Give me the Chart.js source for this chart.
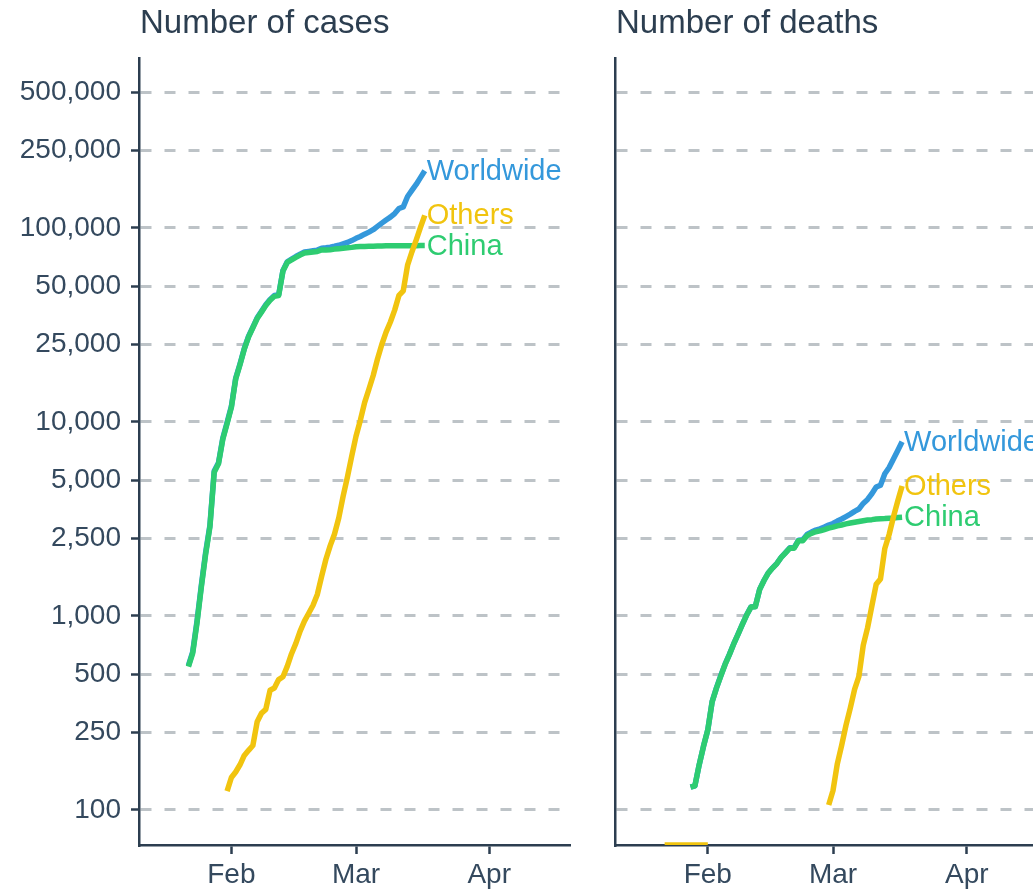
<!DOCTYPE html>
<html>
<head>
<meta charset="utf-8">
<script src="https://cdn.jsdelivr.net/npm/chart.js@4.4.1/dist/chart.umd.min.js"></script>
<style>
  html, body { margin: 0; padding: 0; background: #fff; overflow: hidden; }
  #left { position: absolute; left: 0; top: 0; width: 590px; height: 893px; }
  #right { position: absolute; left: 590px; top: 0; width: 470px; height: 893px; }
</style>
</head>
<body>
<div id="left"><canvas id="casesChart"></canvas></div>
<div id="right"><canvas id="deathsChart"></canvas></div>
<script>
// days are day-of-year 2020, first one is Jan 22, last Mar 17
const firstDay = 22;

const worldCases = [555, 654, 941, 1434, 2118, 2927, 5578, 6166, 8234, 9927,
  12038, 16787, 19887, 23898, 27643, 30802, 34395, 37129, 40159, 42768,
  44811, 45229, 60381, 66908, 69052, 71235, 73270, 75152, 75652, 76212,
  76841, 78602, 78982, 79546, 80399, 81376, 82736, 84124, 86013,
  88371, 90309, 92844, 95124, 97886, 101800, 105836, 109835, 113582, 118582,
  125865, 128343, 145193, 156097, 167449, 181531, 197146];
const chinaCases = [548, 643, 920, 1406, 2075, 2877, 5509, 6087, 8141, 9802,
  11891, 16630, 19716, 23707, 27440, 30587, 34110, 36814, 39829, 42354,
  44386, 44759, 59895, 66358, 68413, 70513, 72434, 74211, 74619, 75077,
  75550, 77001, 77022, 77241, 77754, 78166, 78600, 78928, 79356,
  79932, 80136, 80261, 80386, 80537, 80690, 80770, 80823, 80860, 80887,
  80921, 80932, 80945, 80977, 81003, 81033, 81058];
const othersCases = [null, null, null, null, null, null, null, null, null, 125,
  147, 157, 171, 191, 203, 215, 285, 315, 330, 414,
  425, 470, 486, 550, 639, 722, 836, 941, 1033, 1135,
  1291, 1601, 1960, 2305, 2645, 3210, 4136, 5196, 6657,
  8439, 10173, 12583, 14738, 17349, 21110, 25066, 29012, 32722, 37695,
  44944, 47411, 64248, 75120, 86446, 100498, 116088];

const worldDeaths = [null, null, null, null, null, null, 131, 133, 171, 213,
  259, 362, 426, 492, 564, 634, 719, 806, 906, 1013,
  1113, 1118, 1371, 1523, 1666, 1770, 1868, 2007, 2122, 2247,
  2251, 2458, 2469, 2629, 2708, 2770, 2814, 2872, 2941,
  2996, 3085, 3160, 3254, 3348, 3460, 3558, 3802, 3988, 4262,
  4615, 4720, 5404, 5819, 6440, 7126, 7905];
const chinaDeaths = [null, null, null, null, null, null, 131, 133, 171, 213,
  259, 361, 425, 490, 562, 632, 717, 804, 904, 1011,
  1111, 1116, 1368, 1520, 1662, 1765, 1863, 2002, 2114, 2236,
  2236, 2441, 2443, 2593, 2663, 2715, 2744, 2788, 2835,
  2870, 2912, 2945, 2981, 3013, 3042, 3070, 3097, 3120, 3136,
  3158, 3169, 3176, 3189, 3199, 3213, 3226];
// zeros sit on the axis floor in the original
const othersDeaths = [0, 0, 0, 0, 0, 0, 0, 0, 0, 0,
  0, null, null, null, null, null, null, null, null, null,
  null, null, null, null, null, null, null, null, null, null,
  null, null, null, null, null, null, null, null, 106,
  126, 173, 215, 273, 335, 418, 488, 705, 868, 1126,
  1457, 1551, 2228, 2630, 3241, 3913, 4679];

const yTicks = [100, 250, 500, 1000, 2500, 5000, 10000, 25000, 50000, 100000, 250000, 500000];
const monthTicks = [32, 61, 92];
const monthLabels = ["Feb", "Mar", "Apr"];

const Y_MIN = 66;
const Y_MAX = 751000;
const X_MIN = 10.5;
const X_MAX = 110.8;

const BLUE = "#3498db";
const YELLOW = "#f1c40f";
const GREEN = "#2ecc71";
const DARK = "#2c3e50";
const FONT = "'Liberation Sans', Arial, sans-serif";

const toPoints = (arr) => arr.map((v, i) => ({ x: firstDay + i, y: v === 0 ? Y_MIN : v }));

const endLabels = {
  id: "endLabels",
  afterDatasetsDraw(chart) {
    const ctx = chart.ctx;
    ctx.save();
    ctx.font = "29px " + FONT;
    ctx.textBaseline = "middle";
    ctx.textAlign = "left";
    chart.data.datasets.forEach((ds, i) => {
      const meta = chart.getDatasetMeta(i);
      let last = -1;
      ds.data.forEach((p, j) => { if (p.y !== null) last = j; });
      if (last < 0) return;
      const pt = meta.data[last];
      ctx.fillStyle = ds.borderColor;
      ctx.fillText(ds.label, pt.x + 2, pt.y + 1);
    });
    ctx.restore();
  },
};

const panelTitle = {
  id: "panelTitle",
  afterDraw(chart, args, opts) {
    const ctx = chart.ctx;
    ctx.save();
    ctx.font = "33px " + FONT;
    ctx.fillStyle = DARK;
    ctx.textBaseline = "alphabetic";
    ctx.fillText(opts.text, chart.chartArea.left + 1, 33);
    ctx.restore();
  },
};

function makeChart(id, title, world, others, china, showY, yWidth, padRight) {
  return new Chart(document.getElementById(id), {
    type: "line",
    data: {
      datasets: [
        { label: "Others", data: toPoints(others), borderColor: YELLOW },
        { label: "China", data: toPoints(china), borderColor: GREEN },
        { label: "Worldwide", data: toPoints(world), borderColor: BLUE },
      ],
    },
    options: {
      responsive: true,
      maintainAspectRatio: false,
      animation: false,
      layout: { padding: { top: 58, right: padRight, left: 0, bottom: 0 } },
      elements: {
        line: { borderWidth: 5.5, tension: 0, borderJoinStyle: "round", fill: false },
        point: { radius: 0 },
      },
      plugins: {
        legend: { display: false },
        tooltip: { enabled: false },
        panelTitle: { text: title },
      },
      scales: {
        x: {
          type: "linear",
          min: X_MIN,
          max: X_MAX,
          afterBuildTicks: (s) => { s.ticks = monthTicks.map((v) => ({ value: v })); },
          afterFit: (s) => { s.height = 48; },
          ticks: {
            autoSkip: false,
            maxRotation: 0,
            padding: 4,
            color: "#34495e",
            font: { size: 28, family: FONT },
            callback: (v) => monthLabels[monthTicks.indexOf(v)],
          },
          grid: {
            drawOnChartArea: false,
            tickLength: 9,
            tickColor: DARK,
            tickWidth: 2.5,
          },
          border: { color: DARK, width: 2.5 },
        },
        y: {
          type: "logarithmic",
          min: Y_MIN,
          max: Y_MAX,
          afterBuildTicks: (s) => { s.ticks = yTicks.map((v) => ({ value: v })); },
          afterFit: (s) => { s.width = yWidth; },
          ticks: {
            display: showY,
            padding: 10,
            color: "#34495e",
            font: { size: 28, family: FONT },
            callback: (v) => v.toLocaleString("en-US"),
          },
          grid: {
            color: "#bdc3c7",
            lineWidth: 3,
            drawTicks: showY,
            tickLength: 8,
            tickColor: DARK,
            tickWidth: 2.5,
            tickBorderDash: [],
          },
          border: { color: DARK, width: 2.5, dash: [11, 13] },
        },
      },
    },
    plugins: [endLabels, panelTitle],
  });
}

makeChart("casesChart", "Number of cases", worldCases, othersCases, chinaCases, true, 139, 20);
makeChart("deathsChart", "Number of deaths", worldDeaths, othersDeaths, chinaDeaths, false, 25, 12);
</script>
</body>
</html>
